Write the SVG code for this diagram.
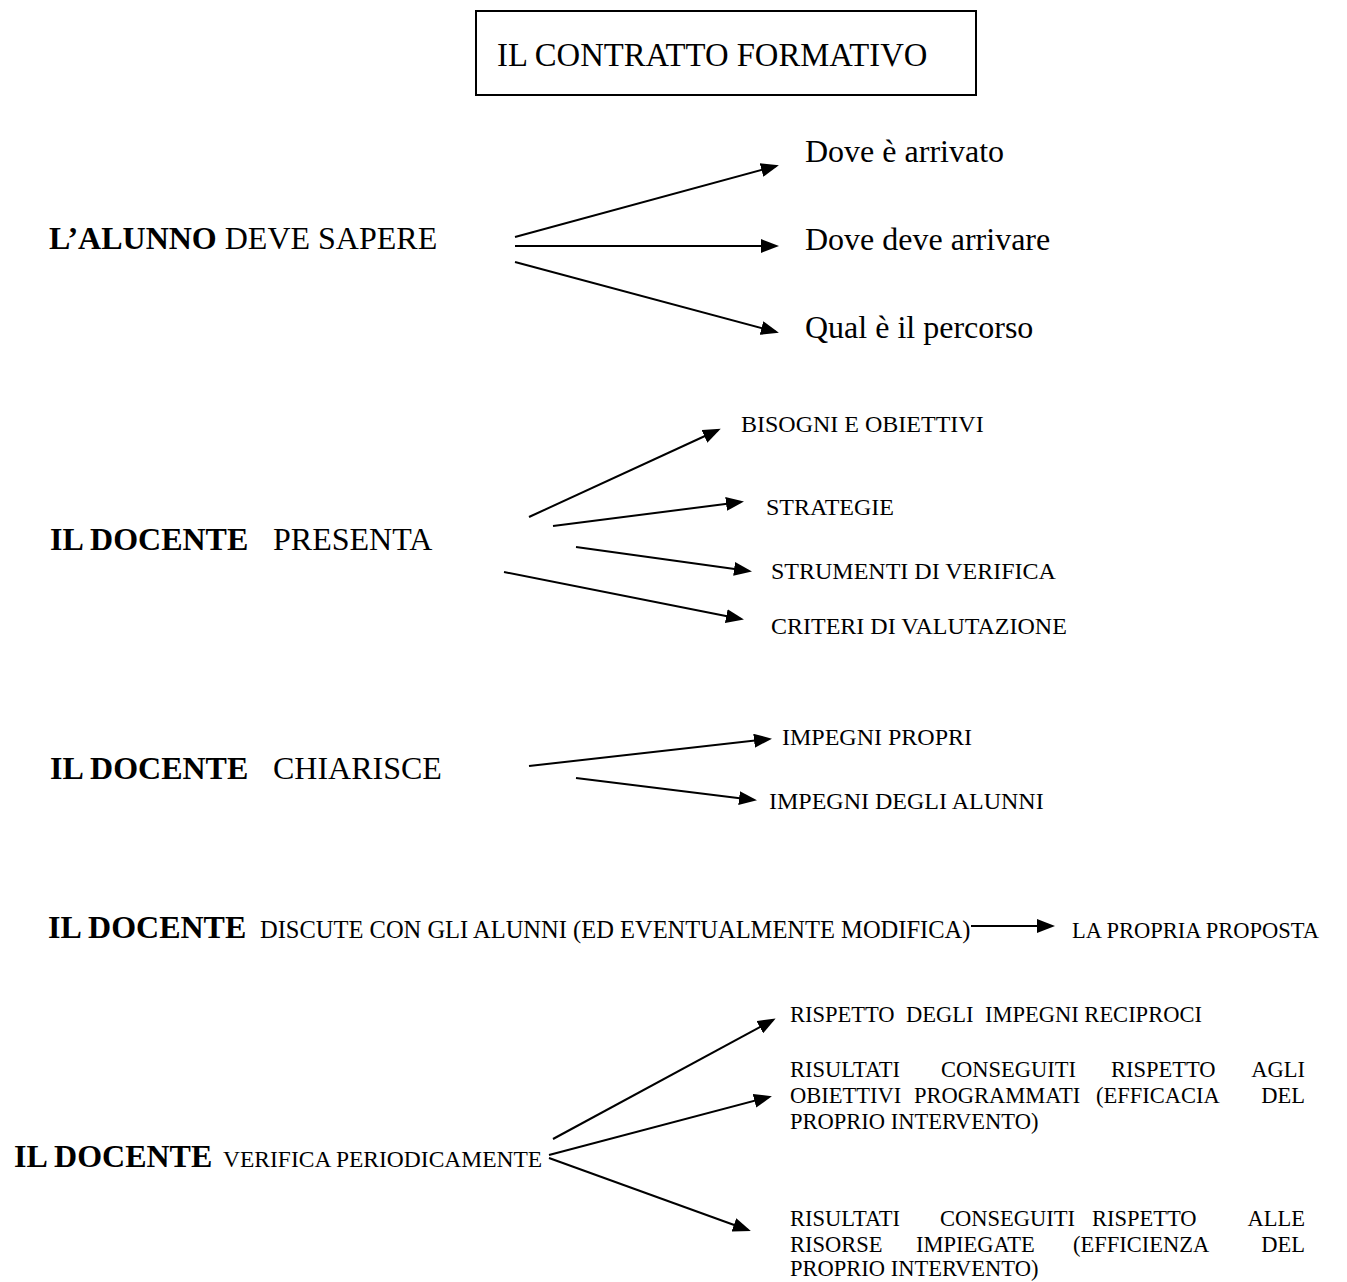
<svg xmlns="http://www.w3.org/2000/svg" width="1347" height="1282" viewBox="0 0 1347 1282">
<style>
text{font-family:"Liberation Serif","Times New Roman",serif;fill:#000}
.h{font-size:32px}
.b{font-weight:bold}
.s{font-size:24px}
.t{font-size:22.5px}
.box{fill:none;stroke:#000;stroke-width:2}
#connectors line{stroke:#000;stroke-width:2;marker-end:url(#ah)}
</style>
<defs>
<marker id="ah" markerUnits="userSpaceOnUse" markerWidth="18" markerHeight="14" refX="15" refY="7" orient="auto"><path d="M0,0 L18,7 L0,14 z" fill="#000"/></marker>
</defs>
<rect width="1347" height="1282" fill="#fff"/>

<g id="title">
<rect class="box" x="476" y="11" width="500" height="84"/>
<text x="497" y="66" style="font-size:32.7px">IL CONTRATTO FORMATIVO</text>
</g>

<g id="alunno"><text class="h" x="49" y="249"><tspan class="b">L’ALUNNO</tspan> DEVE SAPERE</text></g>
<g id="dove-arrivato"><text class="h" x="805" y="162">Dove è arrivato</text></g>
<g id="dove-deve"><text class="h" x="805" y="250">Dove deve arrivare</text></g>
<g id="percorso"><text class="h" x="805" y="338">Qual è il percorso</text></g>

<g id="presenta"><text class="h" y="550"><tspan class="b" x="50">IL DOCENTE</tspan><tspan x="273">PRESENTA</tspan></text></g>
<g id="bisogni"><text class="s" x="741" y="432">BISOGNI E OBIETTIVI</text></g>
<g id="strategie"><text class="s" x="766" y="515">STRATEGIE</text></g>
<g id="strumenti"><text class="s" x="771" y="579">STRUMENTI DI VERIFICA</text></g>
<g id="criteri"><text class="s" x="771" y="634">CRITERI DI VALUTAZIONE</text></g>

<g id="chiarisce"><text class="h" y="779"><tspan class="b" x="50">IL DOCENTE</tspan><tspan x="273">CHIARISCE</tspan></text></g>
<g id="impegni-propri"><text class="s" x="782" y="745">IMPEGNI PROPRI</text></g>
<g id="impegni-alunni"><text class="s" x="769" y="809">IMPEGNI DEGLI ALUNNI</text></g>

<g id="discute"><text y="938"><tspan class="h b" x="48">IL DOCENTE</tspan><tspan x="260" style="font-size:24.5px">DISCUTE CON GLI ALUNNI (ED EVENTUALMENTE MODIFICA)</tspan></text></g>
<g id="proposta"><text x="1072" y="938" style="font-size:22.5px">LA PROPRIA PROPOSTA</text></g>

<g id="verifica"><text y="1167"><tspan class="h b" x="14">IL DOCENTE</tspan><tspan x="223" style="font-size:23.5px">VERIFICA PERIODICAMENTE</tspan></text></g>
<g id="rispetto-impegni"><text class="t" y="1022"><tspan x="790">RISPETTO</tspan><tspan x="906">DEGLI</tspan><tspan x="985">IMPEGNI RECIPROCI</tspan></text></g>
<g id="efficacia" class="t">
<text y="1077"><tspan x="790">RISULTATI</tspan><tspan x="941">CONSEGUITI</tspan><tspan x="1111">RISPETTO</tspan></text>
<text y="1077" x="1305" text-anchor="end">AGLI</text>
<text y="1103"><tspan x="790">OBIETTIVI</tspan><tspan x="914">PROGRAMMATI</tspan><tspan x="1096">(EFFICACIA</tspan></text>
<text y="1103" x="1305" text-anchor="end">DEL</text>
<text y="1129" x="790">PROPRIO INTERVENTO)</text>
</g>
<g id="efficienza" class="t">
<text y="1226"><tspan x="790">RISULTATI</tspan><tspan x="940">CONSEGUITI</tspan><tspan x="1092">RISPETTO</tspan></text>
<text y="1226" x="1305" text-anchor="end">ALLE</text>
<text y="1252"><tspan x="790">RISORSE</tspan><tspan x="916">IMPIEGATE</tspan><tspan x="1073">(EFFICIENZA</tspan></text>
<text y="1252" x="1305" text-anchor="end">DEL</text>
<text y="1276" x="790">PROPRIO INTERVENTO)</text>
</g>

<g id="connectors">
<line x1="515" y1="237" x2="776" y2="166"/>
<line x1="515" y1="246" x2="776" y2="246"/>
<line x1="515" y1="262" x2="776" y2="332"/>
<line x1="529" y1="517" x2="718" y2="430"/>
<line x1="553" y1="526" x2="741" y2="502"/>
<line x1="576" y1="547" x2="749" y2="571"/>
<line x1="504" y1="572" x2="741" y2="619"/>
<line x1="529" y1="766" x2="769" y2="739"/>
<line x1="576" y1="778" x2="754" y2="800"/>
<line x1="971" y1="926" x2="1052" y2="926"/>
<line x1="553" y1="1139" x2="773" y2="1020"/>
<line x1="549" y1="1155" x2="769" y2="1097"/>
<line x1="549" y1="1158" x2="748" y2="1230"/>
</g>
</svg>
